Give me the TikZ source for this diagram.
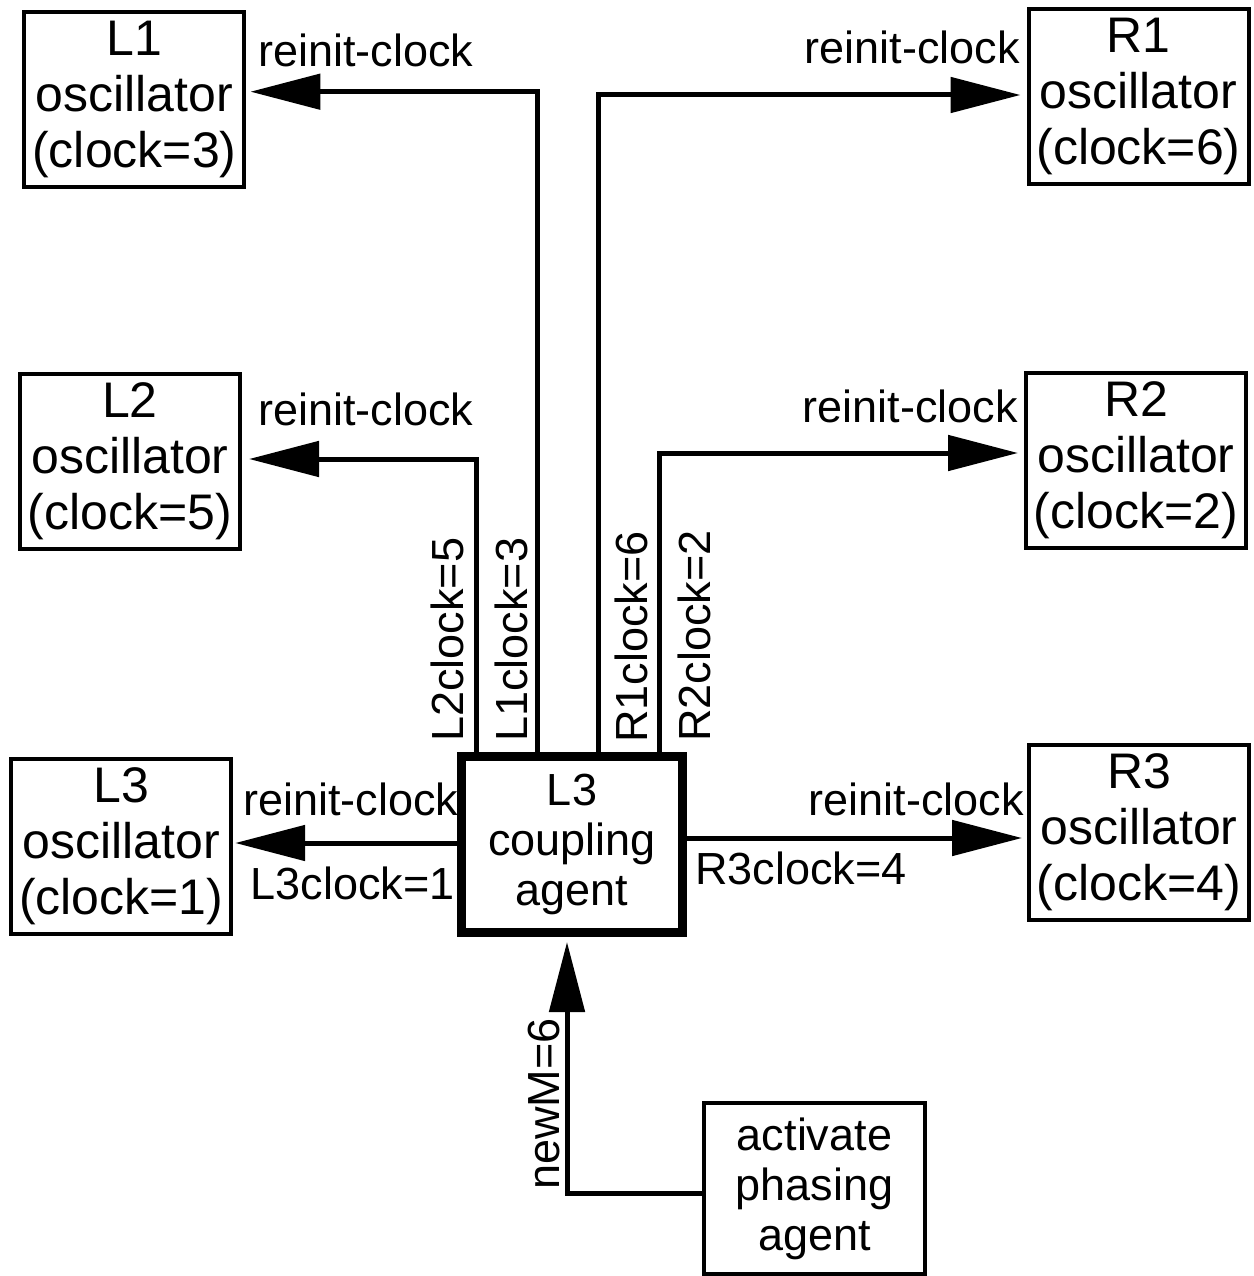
\documentclass[tikz,border=0pt]{standalone}
\usepackage{fontspec}
\setmainfont{Liberation Sans}
\usetikzlibrary{arrows.meta}
\begin{document}
\begin{tikzpicture}[x=1pt,y=-1pt,
  osc/.style={draw, line width=4pt, rectangle, inner sep=0pt, align=center,
    font=\fontsize{50}{56}\selectfont, minimum width=220pt, minimum height=175pt},
  agentbox/.style={draw, rectangle, inner sep=0pt, align=center,
    font=\fontsize{45}{50}\selectfont, minimum width=221pt},
  conn/.style={line width=5pt, -{Triangle[length=70pt,width=35pt]}},
  lbl/.style={inner sep=0pt, font=\fontsize{45}{50}\selectfont},
  vlbl/.style={lbl, rotate=90, anchor=base west}]
\useasboundingbox (0,0) rectangle (1253,1276);

% oscillators
\node[osc] (L1) at (134.4,99.2) {L1\\oscillator\\(clock=3)};
\node[osc] (L2) at (130,461.5) {L2\\oscillator\\(clock=5)};
\node[osc] (L3) at (121.2,846.7) {L3\\oscillator\\(clock=1)};
\node[osc] (R1) at (1138.5,96.5) {R1\\oscillator\\(clock=6)};
\node[osc] (R2) at (1136,460) {R2\\oscillator\\(clock=2)};
\node[osc] (R3) at (1139,832.2) {R3\\oscillator\\(clock=4)};

% agents
\node[agentbox, line width=9pt, minimum height=176pt] (cpl) at (572,844.5)
  {L3\\coupling\\agent};
\node[agentbox, line width=4pt, minimum height=171pt] (act) at (814.5,1188.5)
  {activate\\phasing\\agent};

% wire positions
\coordinate (xL2) at (476,0);
\coordinate (xL1) at (537,0);
\coordinate (xR1) at (598,0);
\coordinate (xR2) at (659,0);
\coordinate (xN)  at (567,0);
\coordinate (yL1) at (0,91.7);
\coordinate (yL2) at (0,459);
\coordinate (yL3) at (0,843);
\coordinate (yR1) at (0,95);
\coordinate (yR2) at (0,453);
\coordinate (yR3) at (0,838);
\coordinate (yN)  at (0,1193);

% connectors
\draw[conn, shorten >=4pt] (cpl.north -| xL1) |- (L1.east |- yL1);
\draw[conn, shorten >=7pt] (cpl.north -| xL2) |- (L2.east |- yL2);
\draw[conn, shorten >=2pt] (cpl.west |- yL3) -- (L3.east |- yL3);
\draw[conn, shorten >=6pt] (cpl.north -| xR1) |- (R1.west |- yR1);
\draw[conn, shorten >=6pt] (cpl.north -| xR2) |- (R2.west |- yR2);
\draw[conn, shorten >=5pt] (cpl.east |- yR3) -- (R3.west |- yR3);
\draw[conn, shorten >=5pt] (act.west |- yN) -| (xN |- cpl.south);

% labels
\node[lbl, anchor=base west] (tL1) at (258,66.7) {reinit-clock};
\node[lbl, anchor=base west] (tL2) at (258,425) {reinit-clock};
\node[lbl, anchor=base west] (tL3) at (243,815) {reinit-clock};
\node[lbl, anchor=base east] (cL3) at (455,899) {L3clock=1};
\node[lbl, anchor=base east] (tR1) at (1020,64) {reinit-clock};
\node[lbl, anchor=base east] (tR2) at (1018,422) {reinit-clock};
\node[lbl, anchor=base east] (tR3) at (1024,815) {reinit-clock};
\node[lbl, anchor=base west] (cR3) at (695,884) {R3clock=4};

\node[vlbl] (cL2) at (463,742) {L2clock=5};
\node[vlbl] (cL1) at (527,742) {L1clock=3};
\node[vlbl] (cR1) at (647,743) {R1clock=6};
\node[vlbl] (cR2) at (710,742) {R2clock=2};
\node[vlbl] (nM)  at (559,1190) {newM=6};
\end{tikzpicture}
\end{document}
